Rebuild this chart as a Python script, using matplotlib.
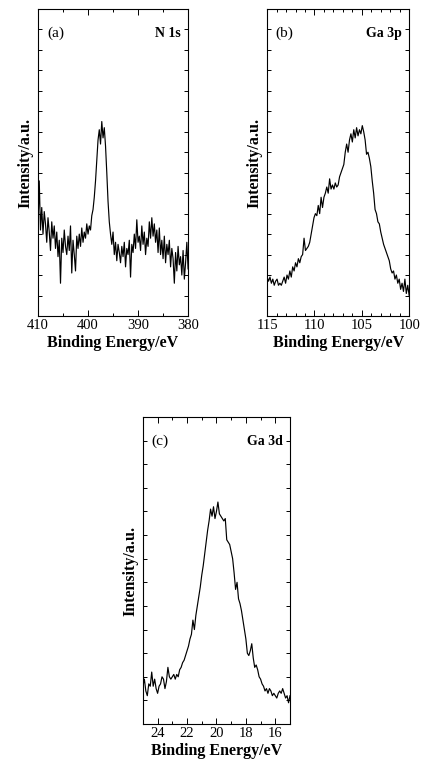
"""XPS core level spectra: N 1s, Ga 3p, Ga 3d"""

import numpy as np
import matplotlib
matplotlib.use('Agg')
import matplotlib.pyplot as plt
from matplotlib.ticker import MultipleLocator, NullFormatter

plt.rcParams['font.family'] = ['Liberation Serif', 'DejaVu Serif']

# N 1s intensity, binding energy 410 -> 380 eV
n1s_range = (410, 380)
n1s_intensity = [
    4.4, 6.6, 4.2, 5.3, 4.0, 5.1, 4.5, 3.6, 4.8, 4.1, 3.2, 4.6, 3.8, 4.4, 3.3, 4.1,
    2.9, 3.7, 1.6, 3.8, 3.1, 4.2, 3.4, 3.0, 3.9, 3.2, 4.4, 2.1, 3.7, 3.0, 2.2, 3.9,
    3.3, 4.0, 3.4, 4.3, 3.6, 4.1, 3.8, 4.5, 4.0, 4.4, 4.2, 4.9, 5.2, 5.8, 6.6, 7.6,
    8.6, 9.1, 8.4, 9.5, 8.7, 9.2, 8.3, 7.0, 5.6, 4.6, 4.0, 3.5, 4.1, 3.0, 3.6, 2.7,
    3.5, 3.1, 2.6, 3.4, 2.9, 3.6, 2.4, 3.3, 3.0, 3.7, 1.9, 3.5, 3.1, 4.0, 3.3, 4.7,
    3.6, 3.9, 3.2, 4.4, 3.5, 4.1, 3.0, 3.8, 3.4, 4.6, 3.8, 4.8, 3.9, 4.5, 3.6, 4.2,
    3.1, 4.3, 3.0, 3.7, 2.8, 3.9, 2.6, 3.5, 3.0, 3.7, 2.4, 3.3, 2.8, 1.6, 3.1, 2.2,
    3.4, 2.5, 2.9, 2.0, 3.2, 1.8, 2.6, 3.6, 2.3,
]

# Ga 3p intensity, binding energy 115 -> 100 eV
ga3p_range = (115, 100)
ga3p_intensity = [
    1.9, 1.7, 1.9, 1.6, 1.8, 1.5, 1.7, 1.8, 1.5, 1.6, 1.5, 1.7, 1.9, 1.6, 2.0, 1.8,
    2.2, 1.9, 2.4, 2.2, 2.6, 2.4, 2.8, 2.6, 2.9, 3.0, 3.8, 3.2, 3.3, 3.4, 3.6, 4.0,
    4.4, 4.8, 5.0, 4.9, 5.4, 5.0, 5.8, 5.3, 5.8, 6.0, 6.3, 6.0, 6.7, 6.2, 6.4, 6.2,
    6.5, 6.3, 6.4, 6.8, 7.0, 7.2, 7.4, 8.0, 8.4, 8.0, 8.6, 8.9, 8.5, 9.1, 8.7, 9.2,
    8.8, 9.1, 8.9, 9.3, 9.0, 8.6, 7.9, 8.0, 7.7, 7.3, 6.6, 6.0, 5.2, 5.0, 4.6, 4.5,
    4.1, 3.8, 3.5, 3.3, 3.1, 2.9, 2.7, 2.3, 2.1, 2.2, 1.8, 2.0, 1.6, 1.8, 1.3, 1.6,
    1.2, 1.8, 1.1, 1.5, 1.0,
]

# Ga 3d intensity, binding energy 25 -> 15 eV
ga3d_range = (25, 15)
ga3d_intensity = [
    1.6, 1.9, 1.4, 1.2, 1.7, 1.6, 2.2, 1.6, 1.9, 1.5, 1.3, 1.6, 1.7, 2.0, 1.9, 1.5,
    1.8, 2.4, 2.0, 1.9, 2.0, 2.1, 1.9, 2.1, 2.0, 2.3, 2.4, 2.6, 2.7, 2.9, 3.1, 3.3,
    3.6, 3.8, 4.4, 4.0, 4.6, 5.0, 5.4, 5.8, 6.3, 6.7, 7.2, 7.7, 8.2, 8.6, 9.1, 8.8,
    9.2, 8.7, 9.0, 9.4, 8.9, 8.8, 8.7, 8.6, 8.7, 7.8, 7.7, 7.6, 7.3, 7.0, 6.4, 5.7,
    6.0, 5.3, 5.1, 4.8, 4.4, 4.0, 3.6, 3.0, 2.9, 3.1, 3.4, 2.8, 2.4, 2.5, 2.3, 2.0,
    1.9, 1.7, 1.6, 1.4, 1.5, 1.3, 1.5, 1.4, 1.2, 1.3, 1.2, 1.1, 1.3, 1.4, 1.3, 1.5,
    1.3, 1.1, 1.2, 0.9, 1.2,
]


def plot_spectrum(ax, energy_range, intensity, ylim, major, minor, tag, label):
    """Draw one spectrum panel"""

    x = np.linspace(energy_range[0], energy_range[1], len(intensity))
    ax.plot(x, intensity, color='k', linewidth=0.85)

    ax.set_xlim(*energy_range)
    ax.set_ylim(0, ylim)
    ax.xaxis.set_major_locator(MultipleLocator(major))
    ax.xaxis.set_minor_locator(MultipleLocator(minor))
    ax.yaxis.set_major_locator(MultipleLocator(1))
    ax.yaxis.set_major_formatter(NullFormatter())

    ax.tick_params(which='both', direction='in', top=True, right=True, width=0.7)
    ax.tick_params(axis='x', which='major', length=4, labelsize=10.5, pad=2)
    ax.tick_params(axis='x', which='minor', length=2)
    ax.tick_params(axis='y', which='major', length=3)
    for spine in ax.spines.values():
        spine.set_linewidth(0.8)

    ax.set_xlabel('Binding Energy/eV', fontsize=11.5, fontweight='bold', labelpad=2)
    ax.set_ylabel('Intensity/a.u.', fontsize=11.5, fontweight='bold', labelpad=0)
    ax.text(0.06, 0.92, tag, transform=ax.transAxes, fontsize=11, va='center', ha='left')
    ax.text(0.95, 0.92, label, transform=ax.transAxes, fontsize=10, fontweight='bold',
            va='center', ha='right')

    return ax


fig = plt.figure(figsize=(4.24, 7.66), dpi=100)

ax1 = fig.add_axes([0.0896, 0.5875, 0.354, 0.4008])
ax2 = fig.add_axes([0.630, 0.5875, 0.335, 0.4008])
ax3 = fig.add_axes([0.337, 0.0548, 0.347, 0.4008])

plot_spectrum(ax1, n1s_range, n1s_intensity, 15, 10, 5, '(a)', 'N 1s')
plot_spectrum(ax2, ga3p_range, ga3p_intensity, 15, 5, 1, '(b)', 'Ga 3p')
plot_spectrum(ax3, ga3d_range, ga3d_intensity, 13, 2, 1, '(c)', 'Ga 3d')

fig.savefig('out.png', dpi=100)
